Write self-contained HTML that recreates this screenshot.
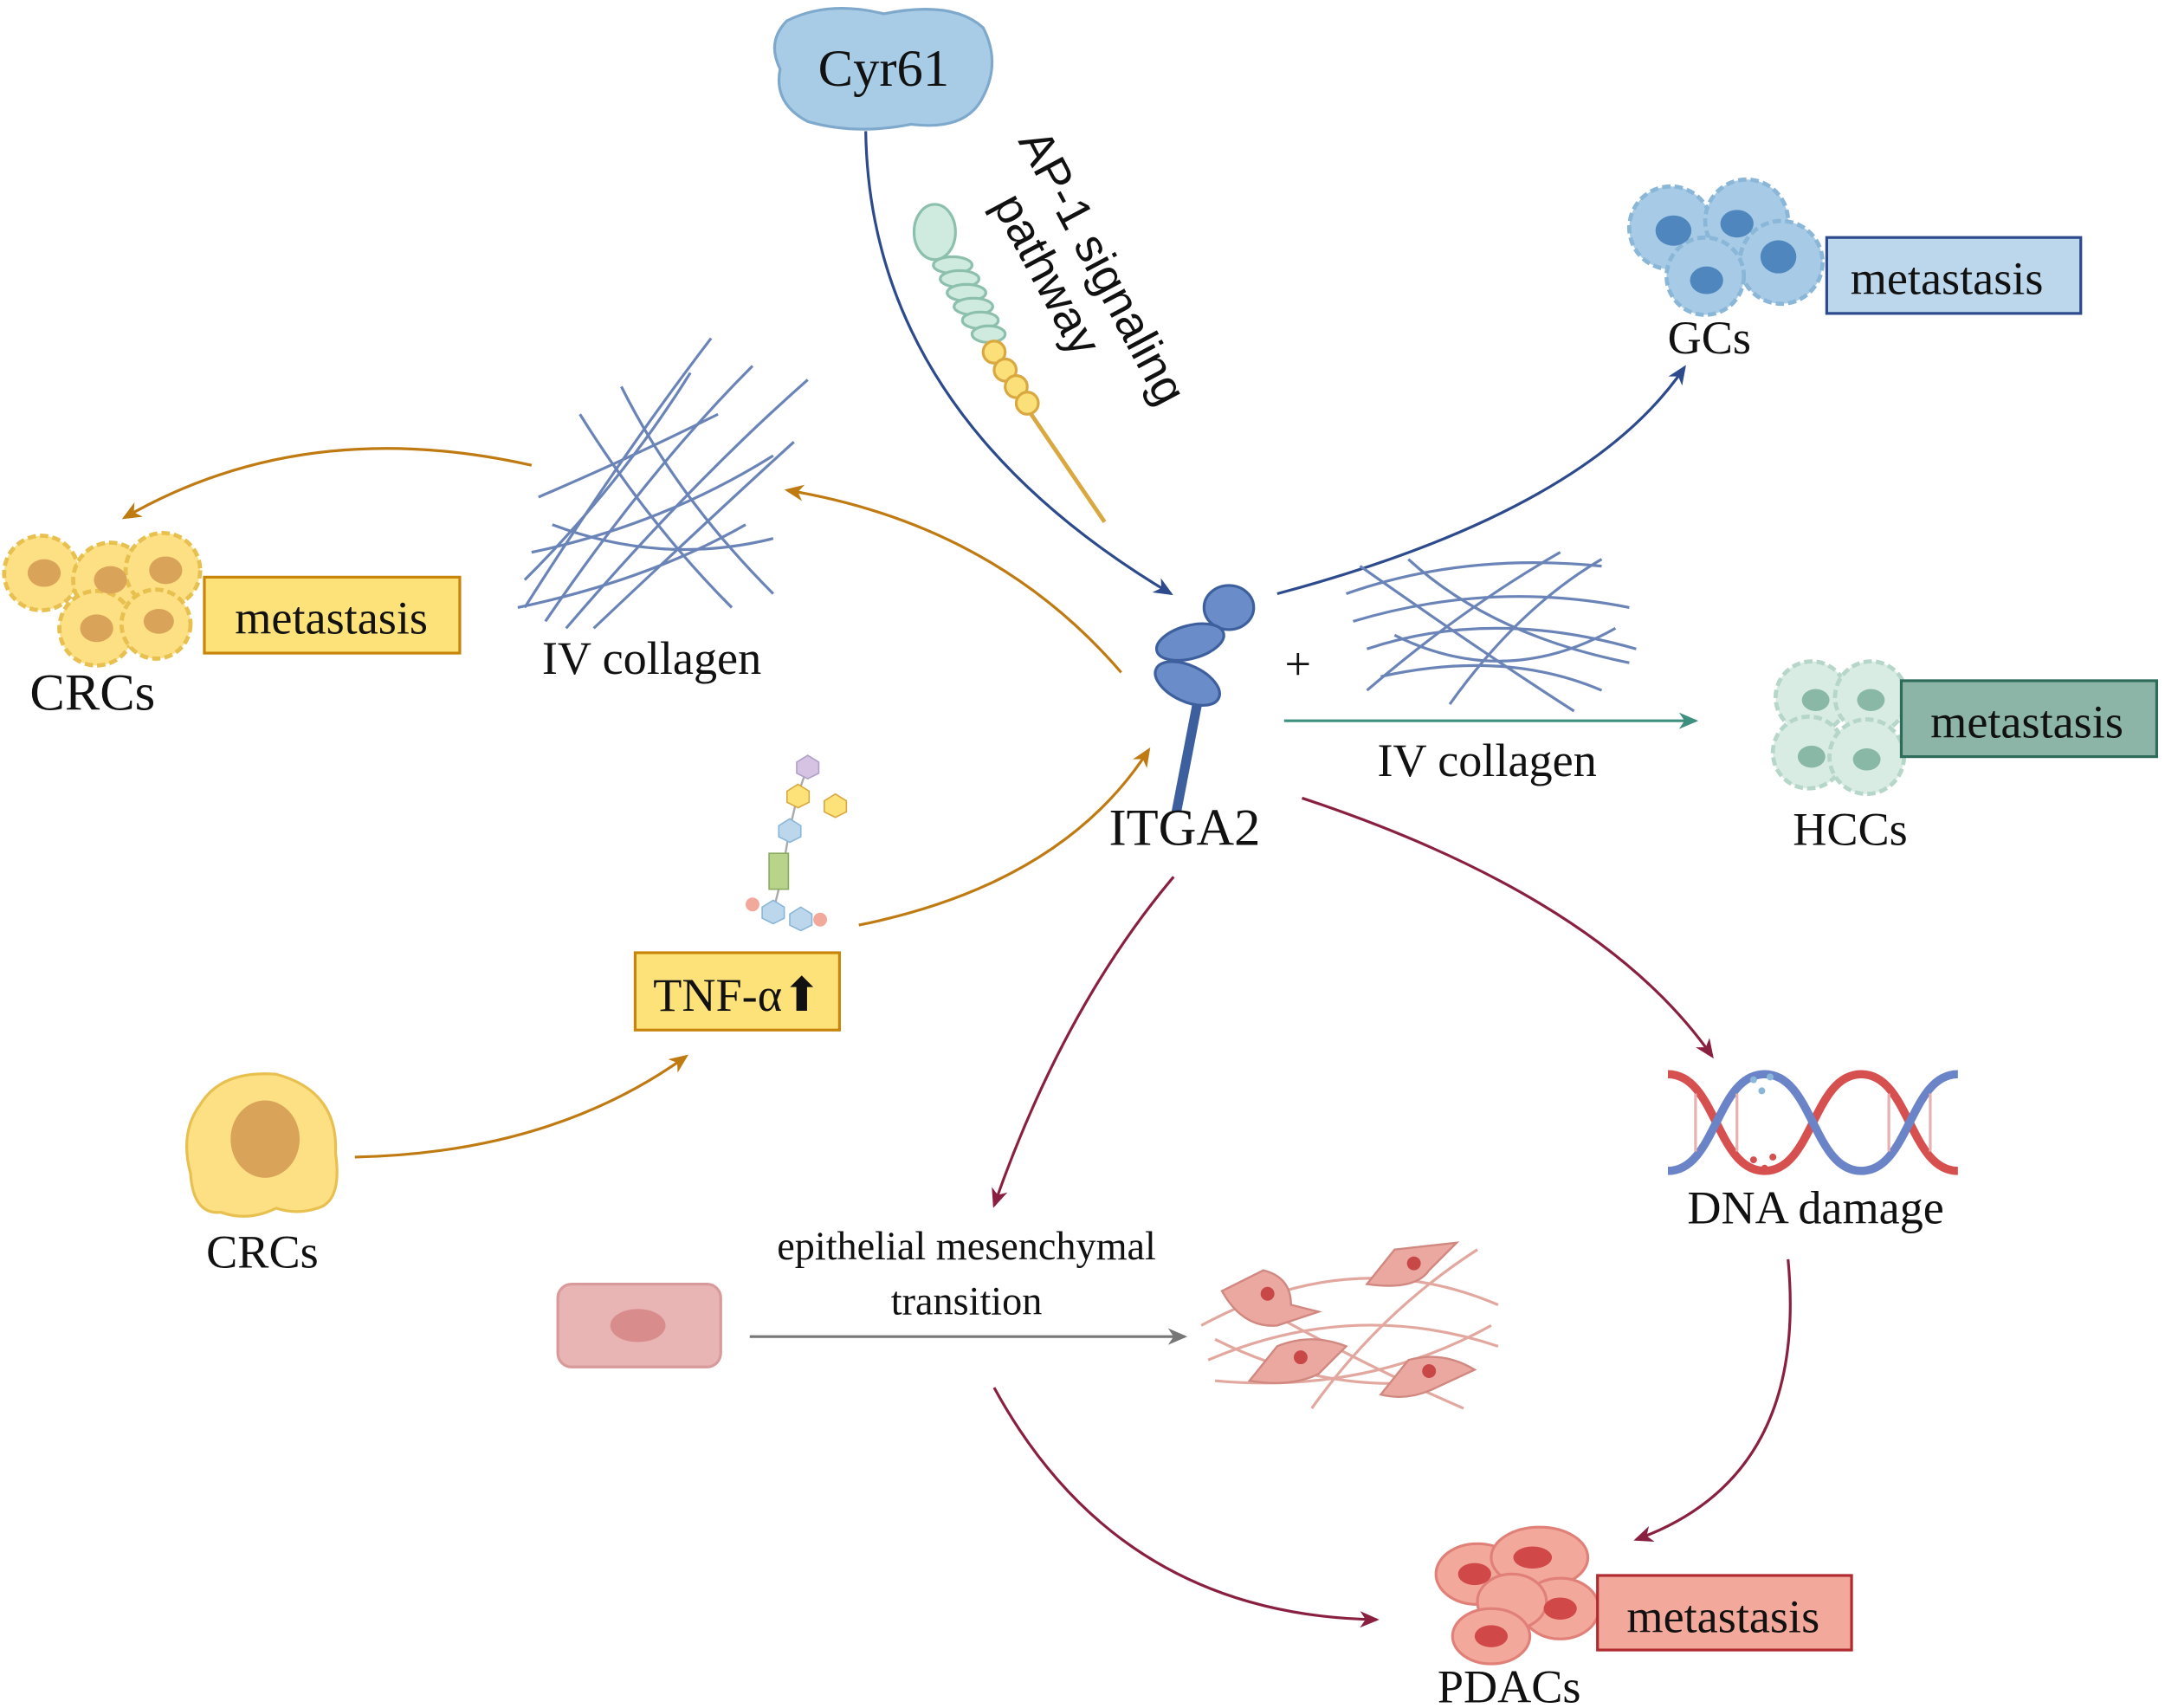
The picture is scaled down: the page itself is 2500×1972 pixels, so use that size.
<!DOCTYPE html>
<html><head><meta charset="utf-8"><style>
html,body{margin:0;padding:0;background:#fff;}
svg{display:block;}
text{font-family:"Liberation Serif",serif;fill:#111;}
</style></head><body>
<svg width="2500" height="1972" viewBox="0 0 1568 1237" preserveAspectRatio="none" xmlns="http://www.w3.org/2000/svg">
<defs>
<marker id="ao" markerWidth="14" markerHeight="12" refX="12" refY="6" orient="auto" markerUnits="userSpaceOnUse"><path d="M0,0 L14,6 L0,12 L4,6z" fill="#c07a12"/></marker>
<marker id="at" markerWidth="14" markerHeight="12" refX="12" refY="6" orient="auto" markerUnits="userSpaceOnUse"><path d="M0,0 L14,6 L0,12 L4,6z" fill="#3f8f80"/></marker>
<marker id="ar" markerWidth="14" markerHeight="12" refX="12" refY="6" orient="auto" markerUnits="userSpaceOnUse"><path d="M0,0 L14,6 L0,12 L4,6z" fill="#8a2040"/></marker>
<marker id="ag" markerWidth="14" markerHeight="12" refX="12" refY="6" orient="auto" markerUnits="userSpaceOnUse"><path d="M0,0 L14,6 L0,12 L4,6z" fill="#777"/></marker>
<marker id="ab2" markerWidth="14" markerHeight="12" refX="12" refY="6" orient="auto" markerUnits="userSpaceOnUse"><path d="M0,0 L14,6 L0,12 L4,6z" fill="#2c4a8c"/></marker>
</defs>

<!-- Cyr61 -->
<path d="M570,15 Q600,0 640,10 Q690,0 712,20 Q725,45 712,70 Q700,95 660,90 Q620,98 585,88 Q560,75 565,50 Q555,30 570,15z" fill="#a9cce6" stroke="#7fa9cc" stroke-width="2"/>
<text x="640" y="62" font-size="38" text-anchor="middle">Cyr61</text>

<!-- AP-1 text -->
<g transform="translate(737,102) rotate(62)">
<text x="0" y="0" font-size="34" style="font-family:'Liberation Sans',sans-serif">AP-1 signaling</text>
<text x="32" y="38" font-size="34" style="font-family:'Liberation Sans',sans-serif">pathway</text>
</g>

<!-- receptor beads -->
<line x1="740" y1="290" x2="800" y2="378" stroke="#d9a840" stroke-width="3"/>
<ellipse cx="677" cy="168" rx="15" ry="20" fill="#cfeadf" stroke="#8cc0ac" stroke-width="2"/>
<g fill="#cfeadf" stroke="#8cc0ac" stroke-width="2">
<ellipse cx="690" cy="192" rx="14" ry="6"/><ellipse cx="695" cy="202" rx="14" ry="6"/><ellipse cx="700" cy="212" rx="14" ry="6"/><ellipse cx="705" cy="222" rx="14" ry="6"/><ellipse cx="710" cy="232" rx="13" ry="6"/><ellipse cx="716" cy="242" rx="12" ry="6"/>
</g>
<g fill="#fbe07a" stroke="#d9a840" stroke-width="2">
<circle cx="720" cy="255" r="8"/><circle cx="728" cy="268" r="8"/><circle cx="736" cy="280" r="8"/><circle cx="744" cy="292" r="8"/>
</g>

<path d="M627,95 Q630,300 848,430" fill="none" stroke="#2c4a8c" stroke-width="2" marker-end="url(#ab2)"/>

<!-- ITGA2 receptor -->
<g fill="#6a8cc8" stroke="#3e5f9e" stroke-width="2">
<line x1="868" y1="505" x2="852" y2="588" stroke-width="7"/>
<ellipse cx="890" cy="440" rx="18" ry="16"/>
<ellipse cx="862" cy="465" rx="25" ry="12" transform="rotate(-15 862 465)"/>
<ellipse cx="860" cy="495" rx="25" ry="13" transform="rotate(25 860 495)"/>
</g>
<text x="858" y="612" font-size="38" text-anchor="middle">ITGA2</text>

<!-- GCs -->
<path d="M925,430 Q1150,370 1220,266" fill="none" stroke="#2c4a8c" stroke-width="2" marker-end="url(#ab2)"/>
<g fill="#a7cbe6" stroke="#8ab6d8" stroke-width="3" stroke-dasharray="6 3">
<circle cx="1210" cy="165" r="30"/><circle cx="1265" cy="160" r="30"/><circle cx="1290" cy="190" r="30"/><circle cx="1235" cy="200" r="28"/>
</g>
<g fill="#4f86bd"><ellipse cx="1212" cy="167" rx="13" ry="11"/><ellipse cx="1258" cy="162" rx="12" ry="10"/><ellipse cx="1288" cy="186" rx="13" ry="12"/><ellipse cx="1236" cy="203" rx="12" ry="10"/></g>
<rect x="1323" y="172" width="184" height="55" fill="#bcd7ec" stroke="#2c4a8c" stroke-width="2"/>
<text x="1410" y="213" font-size="34" text-anchor="middle">metastasis</text>
<text x="1238" y="256" font-size="34" text-anchor="middle">GCs</text>

<!-- + collagen HCC -->
<text x="940" y="492" font-size="34" text-anchor="middle">+</text>
<g fill="none" stroke="#6b84b8" stroke-width="2">
<path d="M975,430 Q1060,400 1160,410"/><path d="M980,450 Q1080,420 1180,440"/><path d="M990,470 Q1080,440 1185,470"/><path d="M1000,490 Q1090,470 1160,500"/><path d="M985,410 Q1070,470 1140,515"/><path d="M1020,405 Q1080,460 1180,480"/><path d="M1050,510 Q1100,440 1160,405"/><path d="M990,500 Q1060,440 1130,400"/><path d="M1010,460 Q1090,500 1170,455"/>
</g>
<line x1="930" y1="522" x2="1228" y2="522" stroke="#3f8f80" stroke-width="2" marker-end="url(#at)"/>
<text x="1077" y="562" font-size="34" text-anchor="middle">IV collagen</text>
<g fill="#d8ece4" stroke="#b5d6c8" stroke-width="3" stroke-dasharray="6 3">
<circle cx="1312" cy="505" r="26"/><circle cx="1355" cy="505" r="26"/><circle cx="1310" cy="545" r="26"/><circle cx="1352" cy="548" r="27"/>
</g>
<g fill="#8ab8a6"><ellipse cx="1315" cy="507" rx="10" ry="8"/><ellipse cx="1355" cy="507" rx="10" ry="8"/><ellipse cx="1312" cy="548" rx="10" ry="8"/><ellipse cx="1352" cy="550" rx="10" ry="8"/></g>
<rect x="1377" y="493" width="185" height="55" fill="#8cb5a8" stroke="#2e6b5a" stroke-width="2"/>
<text x="1468" y="534" font-size="34" text-anchor="middle">metastasis</text>
<text x="1340" y="612" font-size="34" text-anchor="middle">HCCs</text>

<!-- left collagen -->
<path d="M812,487 Q720,380 570,355" fill="none" stroke="#c07a12" stroke-width="2" marker-end="url(#ao)"/>
<g fill="none" stroke="#6b84b8" stroke-width="2">
<path d="M380,440 Q450,330 515,245"/><path d="M395,450 Q470,340 545,265"/><path d="M410,455 Q500,350 585,275"/><path d="M430,455 Q520,370 575,320"/><path d="M380,420 Q450,350 500,270"/><path d="M385,400 Q480,380 560,330"/><path d="M375,440 Q470,420 540,380"/><path d="M400,380 Q480,410 560,390"/><path d="M420,300 Q470,380 530,440"/><path d="M450,280 Q490,360 560,430"/><path d="M390,360 Q460,330 520,300"/>
</g>
<text x="472" y="488" font-size="34" text-anchor="middle">IV collagen</text>
<path d="M385,337 Q220,300 90,375" fill="none" stroke="#c07a12" stroke-width="2" marker-end="url(#ao)"/>
<g fill="#fce083" stroke="#e8c050" stroke-width="3" stroke-dasharray="6 3">
<circle cx="30" cy="415" r="27"/><circle cx="80" cy="420" r="27"/><circle cx="118" cy="413" r="27"/><circle cx="70" cy="455" r="27"/><circle cx="113" cy="452" r="25"/>
</g>
<g fill="#d9a45a"><ellipse cx="32" cy="415" rx="12" ry="10"/><ellipse cx="80" cy="420" rx="12" ry="10"/><ellipse cx="120" cy="413" rx="12" ry="10"/><ellipse cx="70" cy="455" rx="12" ry="10"/><ellipse cx="115" cy="450" rx="11" ry="9"/></g>
<rect x="148" y="418" width="185" height="55" fill="#fde27a" stroke="#c8850a" stroke-width="2"/>
<text x="240" y="459" font-size="34" text-anchor="middle">metastasis</text>
<text x="67" y="514" font-size="38" text-anchor="middle">CRCs</text>

<!-- TNF molecule -->
<g stroke="#aaa" stroke-width="1.5">
<line x1="585" y1="555" x2="578" y2="575"/><line x1="578" y1="575" x2="572" y2="600"/><line x1="572" y1="600" x2="565" y2="640"/><line x1="565" y1="640" x2="560" y2="660"/>
</g>
<polygon points="585,547 593,552 593,560 585,564 577,560 577,552" fill="#d6c3e3" stroke="#b0a0c8"/>
<polygon points="578,568 586,573 586,581 578,585 570,581 570,573" fill="#fde27a" stroke="#d9a840"/>
<polygon points="605,575 613,580 613,588 605,592 597,588 597,580" fill="#fde27a" stroke="#d9a840"/>
<polygon points="572,593 580,598 580,606 572,610 564,606 564,598" fill="#bcd7ec" stroke="#8ab6d8"/>
<rect x="557" y="618" width="14" height="26" fill="#b8d48a" stroke="#8aaa60"/>
<polygon points="560,652 568,657 568,665 560,669 552,665 552,657" fill="#bcd7ec" stroke="#8ab6d8"/>
<polygon points="580,657 588,662 588,670 580,674 572,670 572,662" fill="#bcd7ec" stroke="#8ab6d8"/>
<circle cx="545" cy="655" r="5" fill="#f2a99c"/><circle cx="594" cy="666" r="5" fill="#f2a99c"/>
<rect x="460" y="690" width="148" height="56" fill="#fde27a" stroke="#c8850a" stroke-width="2"/>
<text x="534" y="732" font-size="34" text-anchor="middle">TNF-α⬆</text>
<path d="M622,670 Q770,640 832,543" fill="none" stroke="#c07a12" stroke-width="2" marker-end="url(#ao)"/>

<!-- CRC single -->
<path d="M145,800 Q160,775 200,778 Q245,790 243,835 Q248,870 230,875 Q215,880 200,875 Q180,885 160,878 Q140,880 138,850 Q130,820 145,800z" fill="#fce083" stroke="#e8c050" stroke-width="2"/>
<ellipse cx="192" cy="825" rx="25" ry="28" fill="#d9a45a"/>
<text x="190" y="918" font-size="34" text-anchor="middle">CRCs</text>
<path d="M257,838 Q400,835 497,765" fill="none" stroke="#c07a12" stroke-width="2" marker-end="url(#ao)"/>

<!-- red arrows -->
<path d="M850,635 Q770,730 720,873" fill="none" stroke="#8a2040" stroke-width="2" marker-end="url(#ar)"/>
<path d="M943,578 Q1160,650 1240,765" fill="none" stroke="#8a2040" stroke-width="2" marker-end="url(#ar)"/>
<path d="M1295,912 Q1310,1070 1185,1115" fill="none" stroke="#8a2040" stroke-width="2" marker-end="url(#ar)"/>
<path d="M720,1005 Q810,1170 997,1173" fill="none" stroke="#8a2040" stroke-width="2" marker-end="url(#ar)"/>

<!-- DNA helix -->
<g fill="none" stroke-width="6">
<path d="M1208,778 C1243,778 1243,848 1278,848 C1313,848 1313,778 1348,778 C1383,778 1383,848 1418,848" stroke="#d65050"/>
<path d="M1208,848 C1243,848 1243,778 1278,778 C1313,778 1313,848 1348,848 C1383,848 1383,778 1418,778" stroke="#6b84c8"/>
</g>
<g stroke="#e8b0b0" stroke-width="2">
<line x1="1228" y1="792" x2="1228" y2="834"/><line x1="1258" y1="792" x2="1258" y2="834"/><line x1="1368" y1="792" x2="1368" y2="834"/><line x1="1398" y1="792" x2="1398" y2="834"/>
</g>
<g fill="#8ab6d8"><circle cx="1270" cy="782" r="2.5"/><circle cx="1276" cy="790" r="2.5"/><circle cx="1282" cy="780" r="2.5"/></g>
<g fill="#d65050"><circle cx="1270" cy="840" r="2.5"/><circle cx="1278" cy="846" r="2.5"/><circle cx="1284" cy="838" r="2.5"/></g>
<text x="1315" y="886" font-size="34" text-anchor="middle">DNA damage</text>

<!-- EMT -->
<rect x="404" y="930" width="118" height="60" rx="10" fill="#e8b4b4" stroke="#d89a9a" stroke-width="2"/>
<ellipse cx="462" cy="960" rx="20" ry="12" fill="#d98c8c"/>
<line x1="543" y1="968" x2="858" y2="968" stroke="#777" stroke-width="2" marker-end="url(#ag)"/>
<text x="700" y="912" font-size="29" text-anchor="middle">epithelial mesenchymal</text>
<text x="700" y="952" font-size="29" text-anchor="middle">transition</text>
<g fill="none" stroke="#e2a8a0" stroke-width="2">
<path d="M870,960 Q980,900 1085,945"/><path d="M875,985 Q980,940 1085,975"/><path d="M880,1000 Q990,1010 1080,960"/><path d="M900,940 Q990,990 1060,1020"/><path d="M950,1020 Q1000,950 1070,905"/><path d="M880,970 Q960,1010 1040,1000"/>
</g>
<g fill="#eaa8a0" stroke="#d08880" stroke-width="1.5">
<path d="M885,935 L915,920 Q935,925 935,945 L955,950 L925,960 Q900,962 885,935z"/>
<path d="M990,930 L1010,905 L1055,900 L1035,920 Q1025,935 990,930z"/>
<path d="M905,1000 L925,975 Q950,965 975,975 L955,995 Q935,1005 905,1000z"/>
<path d="M1000,1010 L1020,985 Q1045,978 1068,992 L1040,1005 Q1020,1015 1000,1010z"/>
</g>
<g fill="#c84848"><circle cx="918" cy="937" r="5"/><circle cx="1024" cy="915" r="5"/><circle cx="942" cy="983" r="5"/><circle cx="1035" cy="993" r="5"/></g>

<!-- PDAC -->
<g fill="#f2a99c" stroke="#e08078" stroke-width="2">
<ellipse cx="1070" cy="1140" rx="30" ry="22"/><ellipse cx="1115" cy="1128" rx="35" ry="22"/><ellipse cx="1130" cy="1165" rx="28" ry="22"/><ellipse cx="1095" cy="1160" rx="25" ry="20"/><ellipse cx="1080" cy="1185" rx="28" ry="20"/>
</g>
<g fill="#d04848"><ellipse cx="1068" cy="1140" rx="12" ry="8"/><ellipse cx="1110" cy="1128" rx="14" ry="8"/><ellipse cx="1130" cy="1165" rx="12" ry="8"/><ellipse cx="1080" cy="1185" rx="12" ry="8"/></g>
<rect x="1157" y="1141" width="184" height="54" fill="#f2a99c" stroke="#b02a30" stroke-width="2"/>
<text x="1248" y="1182" font-size="34" text-anchor="middle">metastasis</text>
<text x="1093" y="1233" font-size="34" text-anchor="middle">PDACs</text>
</svg>
</body></html>
